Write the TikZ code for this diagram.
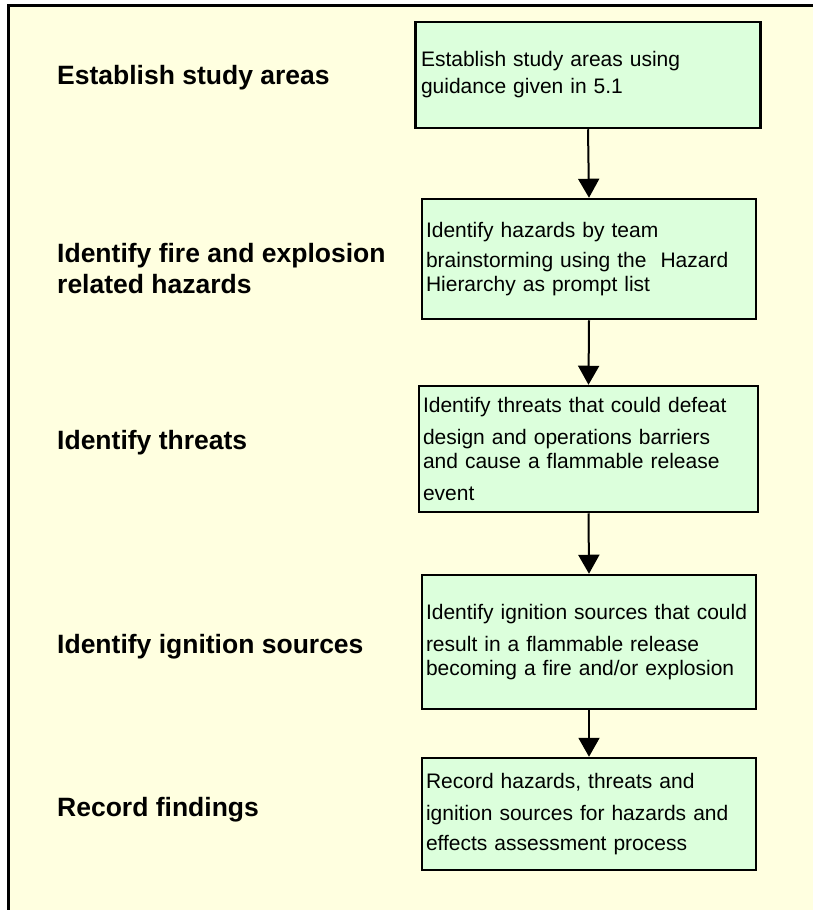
\documentclass[tikz,border=0pt]{standalone}
\usepackage{fontspec}
\setmainfont{Liberation Sans}
\usetikzlibrary{arrows.meta}

\definecolor{paper}{RGB}{255,255,224}
\definecolor{boxgreen}{RGB}{220,255,220}

\tikzset{
  stagelabel/.style={anchor=base west, inner sep=0pt, align=left,
    font=\fontsize{26.5}{31}\selectfont\bfseries},
  stepbox/.style={draw=black, line width=2.5pt, fill=boxgreen, align=left,
    inner xsep=4pt, inner ysep=0pt,
    font=\fontsize{21}{24}\selectfont},
  flow/.style={line width=2pt, -{Triangle[width=21pt,length=19pt]}}
}

\begin{document}
\begin{tikzpicture}[x=1pt, y=-1pt]
  \useasboundingbox (0,0) rectangle (813,910);
  % page background and the open frame along the top and left edges
  \fill[white] (0,0) rectangle (813,910);
  \fill[paper] (8.7,5.7) rectangle (813,910);
  \draw[line width=2.6pt] (8.7,910) -- (8.7,5.7) -- (813,5.7);

  % stage titles in the left column (base anchor sits on the last line)
  \node[stagelabel] (l1) at (57,84) {Establish study areas};
  \node[stagelabel] (l2) at (57,293) {Identify fire and explosion\\related hazards};
  \node[stagelabel] (l3) at (57,449) {Identify threats};
  \node[stagelabel] (l4) at (57,653) {Identify ignition sources};
  \node[stagelabel] (l5) at (57,816) {Record findings};

  % process steps
  \node[stepbox, minimum width=342pt, text width=334pt, minimum height=106pt, inner xsep=5.5pt]
    (b1) at (588,75) {Establish study areas using\\[3pt]guidance given in 5.1};
  \node[stepbox, minimum width=334pt, text width=326pt, minimum height=120pt]
    (b2) at (589,259) {Identify hazards by team\\[6pt]brainstorming using the \ Hazard\\Hierarchy as prompt list};
  \node[stepbox, minimum width=339pt, text width=331pt, minimum height=126pt]
    (b3) at (588.5,449) {Identify threats that could defeat\\[8pt]design and operations barriers\\and cause a flammable release\\[8pt]event};
  \node[stepbox, minimum width=334pt, text width=326pt, minimum height=134pt]
    (b4) at (589,642) {Identify ignition sources that could\\[8pt]result in a flammable release\\becoming a fire and/or explosion};
  \node[stepbox, minimum width=334pt, text width=326pt, minimum height=112pt]
    (b5) at (589,814) {Record hazards, threats and\\[8pt]ignition sources for hazards and\\[6pt]effects assessment process};

  % connectors
  \draw[flow] (b1.south) -- (b2.north);
  \draw[flow] (b2.south) -- (b3.north);
  \draw[flow] (b3.south) -- (b4.north);
  \draw[flow] (b4.south) -- (b5.north);
\end{tikzpicture}
\end{document}
